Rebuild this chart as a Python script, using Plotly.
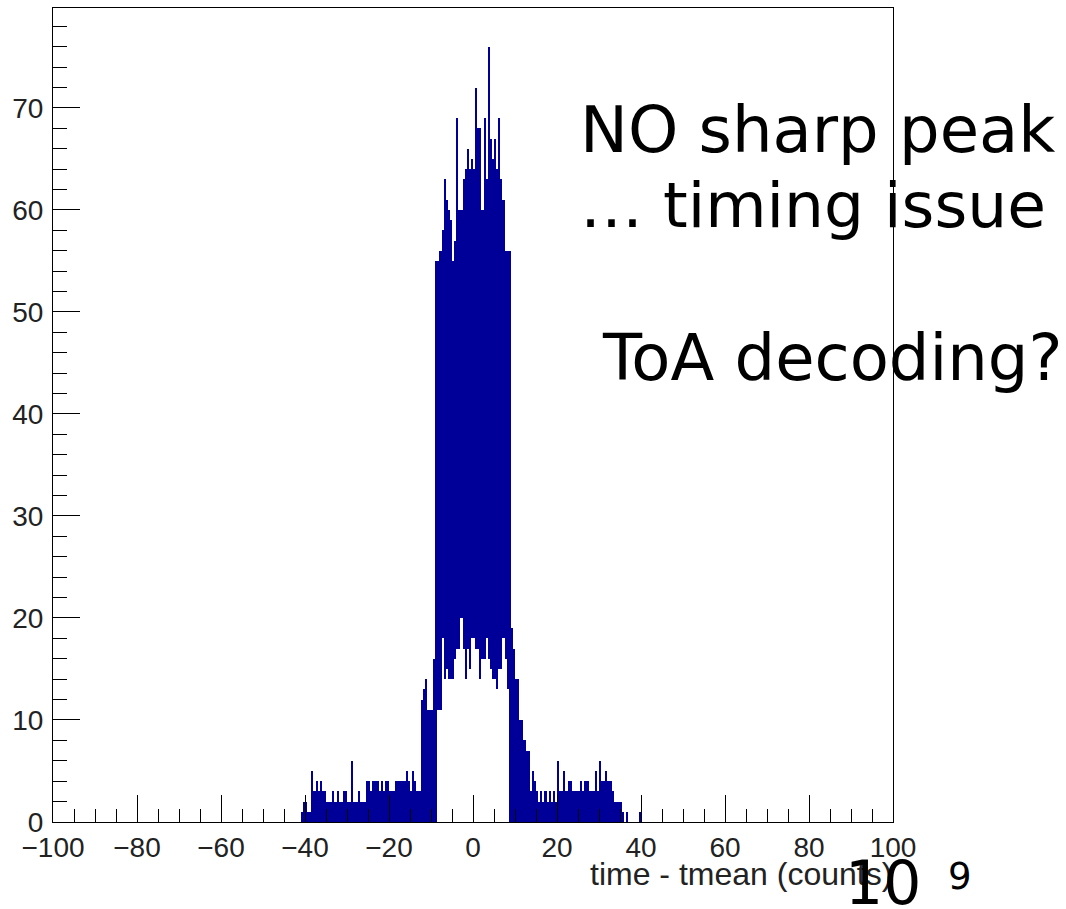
import plotly.graph_objects as go

# ---------------- data (bin width 0.5 count) ----------------
bin_width = 0.5

left_start = -41.0
left_upper = [1, 2, 2, 1, 1, 5, 3, 4, 3, 4,      # -41.0 .. -36.5
              3, 3, 2, 2, 2, 3, 2, 3, 2, 2,      # -36.0 .. -31.5
              3, 3, 2, 2, 6, 2, 2, 3, 2, 2,      # -31.0 .. -26.5
              2, 4, 4, 3, 4, 4, 4, 3, 4, 3,      # -26.0 .. -21.5
              4, 4, 3, 3, 3, 4, 4, 4, 4, 4,      # -21.0 .. -16.5
              5, 4, 3, 5, 4, 3, 3, 12, 13, 14,   # -16.0 .. -11.5
              11, 11, 11, 16]                    # -11.0 .. -9.5

core_start = -9.0
core_upper = [55, 55, 56, 58, 63, 61, 60, 59, 55, 57,
              69, 60, 60, 63, 64, 66, 64, 65, 64, 72,
              68, 68, 60, 69, 63, 76, 67, 65, 67, 64,
              69, 63, 61, 56, 56, 56]
core_lower = [0, 11, 11, 18, 14, 15, 14, 14, 14, 16,
              17, 17, 20, 17, 14, 17, 15, 18, 18, 17,
              17, 14, 16, 16, 18, 16, 15, 14, 14, 13,
              15, 15, 18, 16, 13, 0]

right_start = 9.0
right_upper = [19, 17, 14, 14, 10, 10, 8, 7, 7, 3,
               5, 4, 3, 2, 3, 2, 3, 2, 3, 2,
               3, 2, 6, 3, 3, 5, 3, 4, 4, 3,
               3, 3, 3, 4, 3, 4, 4, 3, 3, 3,
               5, 3, 6, 4, 4, 5, 4, 4, 3, 2,
               2, 2, 2, 1, 0, 1, 0, 0, 0, 0,
               0, 1]

x_range = [-100, 100]
y_range = [0, 79.8]

# ---------------- build bins ----------------
centers, bases, heights = [], [], []

def add_segment(start, ups, lows=None):
    for i, u in enumerate(ups):
        lo = lows[i] if lows is not None else 0
        if u - lo <= 0:
            continue
        centers.append(start + bin_width * i + bin_width / 2)
        bases.append(lo)
        heights.append(u - lo)

add_segment(left_start, left_upper)
add_segment(core_start, core_upper, core_lower)
add_segment(right_start, right_upper)

fill_color = "#000099"

fig = go.Figure()
fig.add_trace(go.Bar(
    x=centers, y=heights, base=bases, width=bin_width,
    marker=dict(color=fill_color, line=dict(width=0)),
    hoverinfo="skip", showlegend=False,
))

# ---------------- layout ----------------
W, H = 1066, 909
L, R, T, B = 53, 173, 8, 87
pw, ph = W - L - R, H - T - B

def px_x(p):
    return (p - L) / pw

def px_y(p):
    return (H - B - p) / ph

tick_font = dict(family="Liberation Sans, Arial, sans-serif", size=28, color="#222222")

fig.update_layout(
    width=W, height=H,
    margin=dict(l=L, r=R, t=T, b=B, pad=0),
    paper_bgcolor="white", plot_bgcolor="white",
    bargap=0,
    xaxis=dict(
        range=x_range, tick0=-100, dtick=20,
        ticks="inside", ticklen=27, tickwidth=1, tickcolor="black",
        minor=dict(dtick=5, tick0=-100, ticks="inside", ticklen=13, tickwidth=1, tickcolor="black"),
        showline=True, mirror=True, linecolor="black", linewidth=1,
        showgrid=False, zeroline=False, automargin=False,
        tickfont=tick_font, ticklabelstandoff=0,
    ),
    yaxis=dict(
        range=y_range, tick0=0, dtick=10,
        ticks="inside", ticklen=27, tickwidth=1, tickcolor="black",
        minor=dict(dtick=2, tick0=0, ticks="inside", ticklen=14, tickwidth=1, tickcolor="black"),
        showline=True, mirror=True, linecolor="black", linewidth=1,
        showgrid=False, zeroline=False, automargin=False,
        tickfont=tick_font, ticklabelstandoff=3,
    ),
)

def big_font(size):
    return dict(family="DejaVu Sans, Verdana, sans-serif", size=size, color="black")

annots = [
    ("NO sharp peak", 578, 130, 64),
    ("\u2026 timing issue", 578, 206, 63),
    ("ToA decoding?", 600, 358, 64),
]
for txt, xp, yp, sz in annots:
    fig.add_annotation(text=txt, x=px_x(xp), y=px_y(yp), xref="paper", yref="paper",
                       xanchor="left", yanchor="middle", showarrow=False, font=big_font(sz))

# axis title
fig.add_annotation(text="time - tmean (counts)", x=px_x(894), y=px_y(874),
                   xref="paper", yref="paper", xanchor="right", yanchor="middle",
                   showarrow=False,
                   font=dict(family="Liberation Sans, Arial, sans-serif", size=32, color="#222222"))

# exponent label
fig.add_annotation(text="10", x=px_x(843), y=px_y(883), xref="paper", yref="paper",
                   xanchor="left", yanchor="middle", showarrow=False,
                   font=big_font(60))
fig.add_annotation(text="9", x=px_x(946), y=px_y(876), xref="paper", yref="paper",
                   xanchor="left", yanchor="middle", showarrow=False,
                   font=big_font(37))

fig.write_html("out.html")
